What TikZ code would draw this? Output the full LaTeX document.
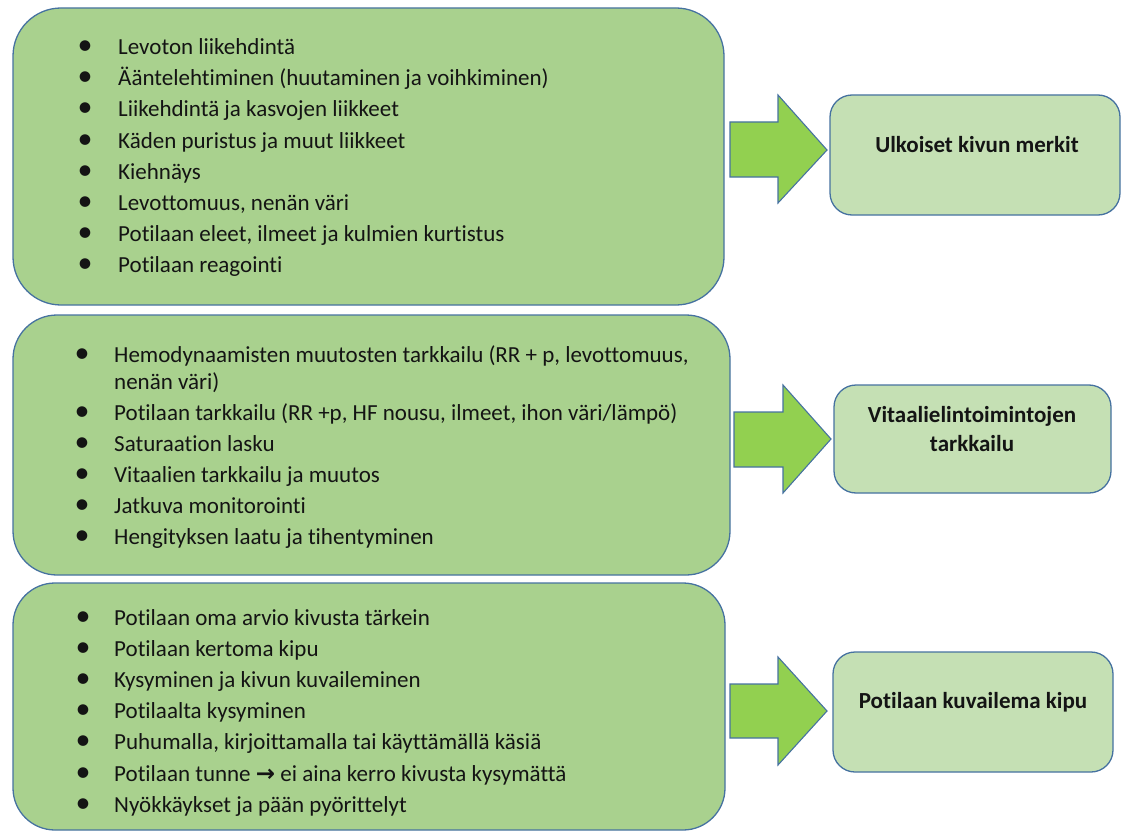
\documentclass[tikz,border=0pt]{standalone}
\usepackage{fontspec}
\setmainfont{Carlito}[Ligatures={NoCommon}]
\newfontfamily\symfont{DejaVu Sans}
\definecolor{bigfill}{HTML}{A9D18E}
\definecolor{smallfill}{HTML}{C5E0B4}
\definecolor{arrowfill}{HTML}{92D050}
\definecolor{edge}{RGB}{70,114,160}
\definecolor{txt}{HTML}{141414}
\begin{document}
\begin{tikzpicture}[x=1pt,y=-1pt,
  bigbox/.style={draw=edge, fill=bigfill, line width=1.3pt, inner sep=0pt},
  smallbox/.style={draw=edge, fill=smallfill, line width=1.3pt, inner sep=0pt, rounded corners=22pt},
  blockarrow/.style={draw=edge, fill=arrowfill, line width=1.1pt, line join=miter},
  item/.style={anchor=base west, inner sep=0pt, text=txt, font=\fontsize{23}{27}\selectfont},
  bul/.style={anchor=base, inner sep=0pt, text=txt, font=\fontsize{30}{30}\selectfont},
  title/.style={align=center, inner sep=0pt, text=txt, font=\fontsize{23}{29}\selectfont\bfseries}]
\useasboundingbox (0,0) rectangle (1121,832);
% big boxes
\node[bigbox, rounded corners=48pt, minimum width=711pt, minimum height=297pt] (b1) at (368.5,156.5) {};
\node[bigbox, rounded corners=44pt, minimum width=717pt, minimum height=260pt] (b2) at (371.5,445) {};
\node[bigbox, rounded corners=42pt, minimum width=712pt, minimum height=247pt] (b3) at (369,706.5) {};
% small boxes
\node[smallbox, minimum width=290pt, minimum height=120pt] (s1) at (975,155) {};
\node[smallbox, minimum width=277pt, minimum height=108pt] (s2) at (972.5,439) {};
\node[smallbox, minimum width=280pt, minimum height=120pt] (s3) at (973,712) {};
% block arrows
\draw[blockarrow] (730,122) -- (778,122) -- (778,95) -- (827,150) -- (778,203) -- (778,177) -- (730,177) -- cycle;
\draw[blockarrow] (734,412) -- (783,412) -- (783,385) -- (831,439) -- (783,493) -- (783,467) -- (734,467) -- cycle;
\draw[blockarrow] (730,684) -- (778,684) -- (778,657) -- (827,711) -- (778,765) -- (778,738) -- (730,738) -- cycle;
% titles
\node[title, anchor=base] (t1) at (977,152) {Ulkoiset kivun merkit};
\node[title, anchor=base] (t2) at (972,451) {Vitaalielintoimintojen\\tarkkailu};
\node[title, anchor=base] (t3) at (973,708) {Potilaan kuvailema kipu};
% box 1 items
\foreach \yy/\tt in {55/Levoton liikehdintä, 86/Ääntelehtiminen (huutaminen ja voihkiminen), 117/Liikehdintä ja kasvojen liikkeet, 148/Käden puristus ja muut liikkeet, 179/Kiehnäys, 210/{Levottomuus, nenän väri}, 241/{Potilaan eleet, ilmeet ja kulmien kurtistus}, 272/Potilaan reagointi}{
  \node[bul] at (85,\yy) {•};
  \node[item] at (118,\yy) {\tt};
}
% box 2 items
\node[bul] at (82,362) {•};
\node[item] at (114,362) {Hemodynaamisten muutosten tarkkailu (RR + p, levottomuus,};
\node[item] at (114,389) {nenän väri)};
\foreach \yy/\tt in {420/{Potilaan tarkkailu (RR +p, HF nousu, ilmeet, ihon väri/lämpö)}, 451/Saturaation lasku, 482/Vitaalien tarkkailu ja muutos, 513/Jatkuva monitorointi, 544/Hengityksen laatu ja tihentyminen}{
  \node[bul] at (82,\yy) {•};
  \node[item] at (114,\yy) {\tt};
}
% box 3 items
\foreach \yy/\tt in {625/Potilaan oma arvio kivusta tärkein, 656/Potilaan kertoma kipu, 687/Kysyminen ja kivun kuvaileminen, 718/Potilaalta kysyminen, 749/{Puhumalla, kirjoittamalla tai käyttämällä käsiä}, 781/{Potilaan tunne {\symfont\bfseries →} ei aina kerro kivusta kysymättä}, 812/Nyökkäykset ja pään pyörittelyt}{
  \node[bul] at (83,\yy) {•};
  \node[item] at (114,\yy) {\tt};
}
\end{tikzpicture}
\end{document}
